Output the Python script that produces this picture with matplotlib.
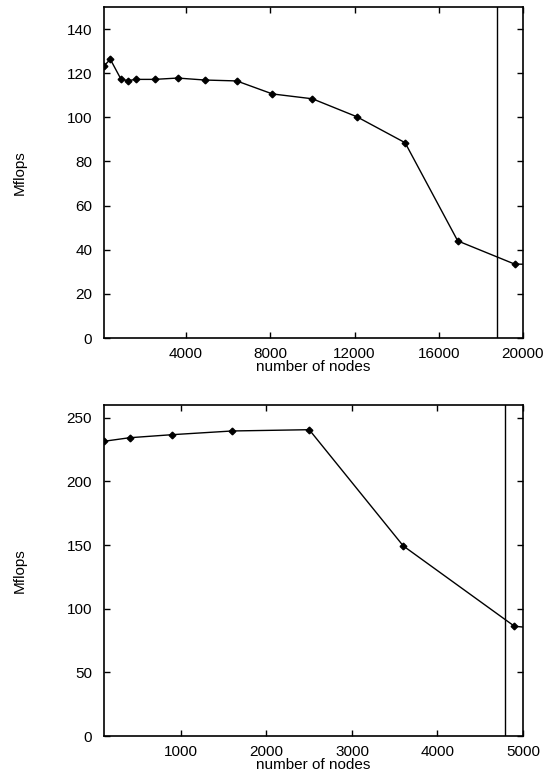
import matplotlib
matplotlib.use("Agg")
import matplotlib.pyplot as plt

plt.rcParams['font.family'] = ['Liberation Sans', 'DejaVu Sans']
plt.rcParams['font.size'] = 11

# top panel: nodes vs Mflops
nodes_a = [100, 400, 900, 1225, 1600, 2500, 3600, 4900, 6400, 8100, 10000,
           12100, 14400, 16900, 19600, 22500]
mflops_a = [123.3, 126.3, 117.4, 116.6, 117.2, 117.2, 117.8, 116.9, 116.5,
            110.6, 108.4, 100.3, 88.5, 44.0, 33.5, 33.0]
limit_a = 18750
xticks_a = [4000, 8000, 12000, 16000, 20000]
yticks_a = [0, 20, 40, 60, 80, 100, 120, 140]

# bottom panel
nodes_b = [100, 400, 900, 1600, 2500, 3600, 4900, 6400]
mflops_b = [231.5, 234.3, 236.7, 239.6, 240.6, 149.3, 86.2, 77.0]
limit_b = 4790
xticks_b = [1000, 2000, 3000, 4000, 5000]
yticks_b = [0, 50, 100, 150, 200, 250]

W, H = 558, 776
fig = plt.figure(figsize=(W / 100, H / 100), dpi=100)

panels = [
    (nodes_a, mflops_a, limit_a, xticks_a, yticks_a, (100, 20000), (0, 150), 7, 338),
    (nodes_b, mflops_b, limit_b, xticks_b, yticks_b, (100, 5000), (0, 260), 405, 736),
]

for x, y, lim, xt, yt, xr, yr, top, bot in panels:
    ax = fig.add_axes([104 / W, (H - bot) / H, (523 - 104) / W, (bot - top) / H])
    ax.plot(x, y, color='black', lw=1.0, marker='D', ms=3.4, mfc='black', mec='black')
    ax.axvline(lim, color='black', lw=1.0)
    ax.set_xlim(*xr)
    ax.set_ylim(*yr)
    ax.set_xticks(xt)
    ax.set_yticks(yt)
    ax.tick_params(direction='in', length=4, width=1, top=True, right=True, labelsize=11)
    ax.tick_params(axis='x', pad=6.5)
    ax.tick_params(axis='y', pad=8.5)
    for s in ax.spines.values():
        s.set_linewidth(1.2)
    ax.set_xlabel('number of nodes', fontsize=11, labelpad=-1)
    ax.set_ylabel('Mflops', fontsize=11)
    ax.yaxis.set_label_coords(-0.184, 0.5)

fig.savefig('out.png', dpi=100)
